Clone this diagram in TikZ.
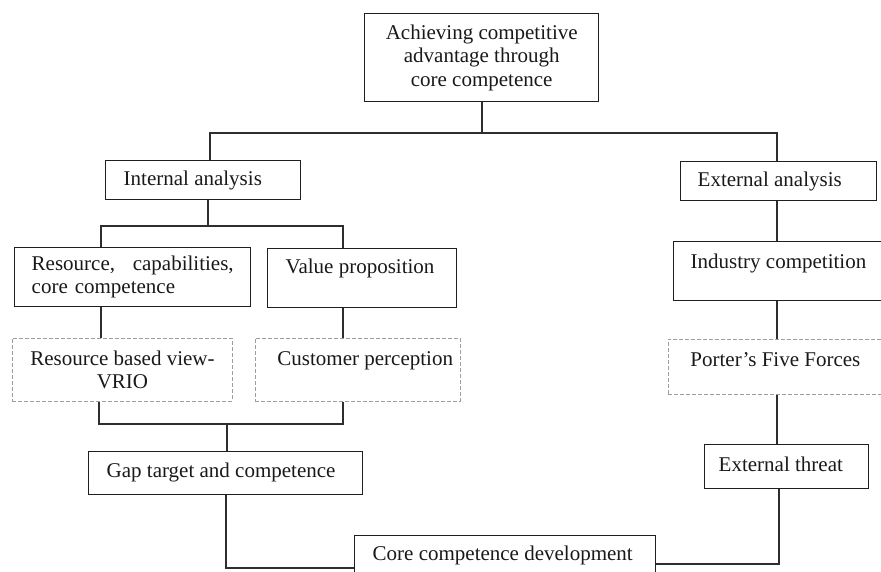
\documentclass[tikz,border=0pt]{standalone}
\usepackage{fontspec}
\setmainfont{Liberation Serif}
\newcommand\padtext[2]{\makebox[#1][l]{#2}}
\begin{document}
\begin{tikzpicture}[x=1pt,y=-1pt,
  every node/.style={font=\fontsize{21}{23.5}\selectfont, text=black!90},
  box/.style={draw=black!88, line width=1.4pt, inner ysep=0pt, anchor=north west},
  softbox/.style={draw=black!38, line width=0.9pt, dash pattern=on 4pt off 2pt, inner ysep=0pt, anchor=north west},
  link/.style={draw=black!82, line width=1.3pt}]
\useasboundingbox (0,0) rectangle (881,572);

% ---- boxes ----
\node[box, inner xsep=0pt, minimum width=234pt, minimum height=88pt, align=center]
  (top) at (364,13) {Achieving competitive\\advantage through\\core competence};

\node[box, inner xsep=18pt, text height=25pt, text depth=14pt]
  (intl) at (105,160) {\padtext{159pt}{Internal analysis}};
\node[box, inner xsep=17pt, text height=25pt, text depth=14pt]
  (ext) at (680,161) {\padtext{162pt}{External analysis}};

\node[box, inner xsep=17pt, minimum height=59pt, text width=202pt, align=left]
  (res) at (14,247) {Resource,\hfill capabilities,\\core competence};
\node[box, inner xsep=18pt, text height=25pt, text depth=34pt]
  (val) at (267,248) {\padtext{153pt}{Value proposition}};
\node[box, inner xsep=17pt, text height=27pt, text depth=32pt]
  (ind) at (673,241) {\padtext{181pt}{Industry competition}};

\node[softbox, inner xsep=0pt, minimum width=220pt, minimum height=63pt, align=center]
  (vrio) at (12,338) {Resource based view-\\VRIO};
\node[softbox, inner xsep=22pt, text height=27pt, text depth=36pt]
  (cust) at (255,338) {\padtext{161pt}{Customer perception}};
\node[softbox, inner xsep=22pt, text height=27pt, text depth=28pt]
  (por) at (668,339) {\padtext{176pt}{Porter's Five Forces}};

\node[box, inner xsep=18pt, text height=26pt, text depth=17pt]
  (gap) at (88,451) {\padtext{238pt}{Gap target and competence}};
\node[box, inner xsep=14pt, text height=26.5pt, text depth=17.5pt]
  (thr) at (704,444) {\padtext{136pt}{External threat}};
\node[box, inner xsep=18pt, text height=25pt, text depth=30pt]
  (core) at (354,535) {\padtext{265pt}{Core competence development}};

% ---- junction points ----
\coordinate (busM) at (482,133);
\coordinate (busL) at (210,133);
\coordinate (busR) at (777,133);
\coordinate (inM) at (208,226);
\coordinate (inL) at (101,226);
\coordinate (inR) at (343,226);
\coordinate (joL) at (99,424);
\coordinate (joR) at (343,424);
\coordinate (joM) at (227,424);
\coordinate (btL) at (226,568);
\coordinate (btR) at (779,564);

% ---- connectors ----
\draw[link] (top.south -| busM) -- (busM);
\draw[link] (intl.north -| busL) -- (busL) -- (busR) -- (ext.north -| busR);

\draw[link] (intl.south -| inM) -- (inM);
\draw[link] (res.north -| inL) -- (inL) -- (inR) -- (val.north -| inR);
\draw[link] (res.south -| inL) -- (vrio.north -| inL);
\draw[link] (val.south -| inR) -- (cust.north -| inR);

\draw[link] (vrio.south -| joL) -- (joL) -- (joR) -- (cust.south -| joR);
\draw[link] (joM) -- (gap.north -| joM);

\draw[link] (ext.south -| busR) -- (ind.north -| busR);
\draw[link] (ind.south -| busR) -- (por.north -| busR);
\draw[link] (por.south -| busR) -- (thr.north -| busR);

\draw[link] (gap.south -| btL) -- (btL) -- (core.west |- btL);
\draw[link] (core.east |- btR) -- (btR) -- (thr.south -| btR);
\end{tikzpicture}
\end{document}
